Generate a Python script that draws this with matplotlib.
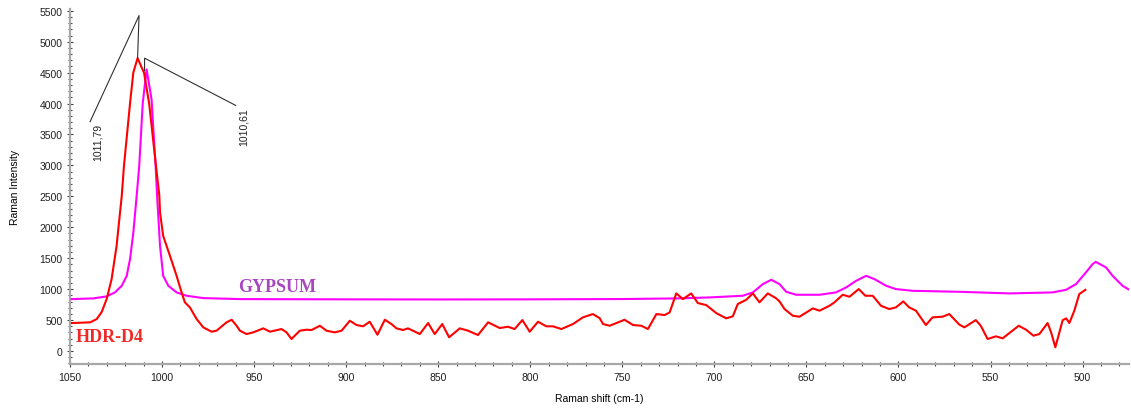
import matplotlib
matplotlib.use("Agg")
import matplotlib.pyplot as plt
from matplotlib.ticker import MultipleLocator

# HDR-D4 spectrum
hdr_shift = [1049, 1039, 1035.5, 1032.8, 1030.1, 1027.4, 1024.7, 1021.9, 1020.7, 1017.4,
             1015.6, 1013.3, 1009.8, 1007, 1003.3, 1001.5, 1001.1, 999.4, 995.7, 992.1,
             989.4, 987.6, 984.9, 981.2, 977.6, 973.1, 970.4, 965, 962.2, 959.5,
             957.7, 954.1, 950.5, 945, 941.4, 935.1, 932.4, 929.7, 925.2, 921.5,
             918.8, 914.3, 910.7, 906.2, 902.5, 898, 894.4, 890.8, 887.2, 883,
             879, 875.4, 872.7, 869.1, 866.4, 862.7, 860, 855.5, 851.9, 847.8,
             844.1, 838.3, 833.8, 828.4, 822.9, 816.6, 812.1, 808.5, 804.3, 800.3,
             795.8, 791.3, 787.7, 783.1, 776.8, 771.4, 766, 762.3, 760.5, 756.9,
             748.8, 744.2, 739.7, 736.1, 731.5, 727, 724.3, 720.7, 717.1, 712.6,
             709, 704.4, 699, 693.6, 690, 687.3, 682.7, 679.1, 675.5, 671,
             666.4, 664.6, 661.9, 657.4, 653.8, 646.5, 642.9, 637.5, 634.8, 630.3,
             626.6, 621.6, 618, 614, 609.5, 605, 601.4, 597.4, 594.2, 590.5,
             585.1, 581.5, 576.1, 572.4, 567, 564.2, 558, 555.3, 551.6, 547.1,
             543.4, 534.7, 530.7, 526.7, 523.5, 519, 517.1, 514.8, 510.8, 508.9,
             507.2, 504.5, 501.8, 498.5]
hdr_int = [452, 463, 516, 629, 839, 1162, 1700, 2507, 2991, 4003,
           4503, 4734, 4498, 3998, 2991, 2518, 2239, 1861, 1538, 1215,
           947, 786, 705, 516, 382, 312, 328, 463, 505, 408,
           328, 274, 301, 366, 312, 355, 301, 194, 328, 344,
           339, 408, 328, 301, 328, 489, 420, 399, 473, 263,
           505, 436, 366, 339, 366, 312, 274, 452, 274, 436,
           221, 366, 328, 258, 463, 371, 392, 355, 500, 312,
           473, 399, 399, 355, 436, 544, 597, 530, 436, 408,
           505, 420, 408, 355, 597, 581, 624, 931, 839, 931,
           775, 742, 613, 528, 560, 759, 828, 931, 786, 931,
           851, 800, 678, 570, 554, 689, 651, 731, 786, 909,
           877, 1001, 893, 893, 731, 678, 705, 802, 705, 651,
           420, 544, 554, 597, 428, 382, 500, 408, 194, 237,
           205, 408, 344, 247, 274, 452, 301, 60, 500, 527,
           452, 651, 920, 989]

# GYPSUM reference spectrum
gyp_shift = [1049.1, 1037.4, 1030.1, 1025.6, 1021.9, 1019.2, 1017.4, 1015.6, 1013.8, 1012.4,
             1010.5, 1008.4, 1005.7, 1004.4, 1003.5, 1002.6, 1001.1, 999.4, 996.6, 992.1,
             986.7, 977.6, 957.7, 900, 850, 800, 750, 720, 702.6, 684.6,
             679.1, 673.7, 669.1, 664.6, 661, 655.6, 642.9, 634, 628.4, 623,
             617.6, 613.1, 606.7, 601.4, 592.4, 567, 539.8, 516.3, 509, 503.6,
             498.2, 494.6, 492.9, 487.3, 483.7, 478.3, 474.6]
gyp_int = [839, 850, 883, 947, 1054, 1215, 1485, 1916, 2507, 2991,
           4003, 4551, 4067, 3422, 2991, 2453, 1700, 1215, 1054, 947,
           893, 855, 839, 835, 833, 835, 840, 850, 866, 893,
           947, 1081, 1151, 1081, 957, 909, 909, 947, 1028, 1135,
           1215, 1162, 1054, 1001, 973, 957, 931, 947, 989, 1081,
           1270, 1404, 1441, 1351, 1215, 1054, 989]

# peak annotation leader lines and labels
peak_labels = ["1011,79", "1010,61"]
leader1_x = [1013.3, 1012.5, 1039.1]
leader1_y = [4734, 5423, 3707]
leader2_x = [1009.5, 1009.5, 960.0]
leader2_y = [4530, 4734, 3970]
label_pos = [(1035.0, 3690), (955.9, 3945)]

fig = plt.figure(figsize=(11.31, 4.10), dpi=100)
ax = fig.add_axes([0.0619, 0.1098, 0.936, 0.866])

ax.plot(gyp_shift, gyp_int, color="#ff00ff", lw=1.5, zorder=3)
ax.plot(hdr_shift, hdr_int, color="#ff0000", lw=1.5, zorder=4)

ax.plot(leader1_x, leader1_y, color="#303030", lw=0.8, zorder=5)
ax.plot(leader2_x, leader2_y, color="#303030", lw=0.8, zorder=5)
for txt, (x, y) in zip(peak_labels, label_pos):
    ax.text(x, y, txt, rotation=90, ha="center", va="top", fontsize=7.5,
            family="Liberation Sans", color="#202020")

ax.text(958.8, 968, "GYPSUM", fontsize=13, fontweight="bold", family="Liberation Serif",
        color="#a846c0", ha="left", va="baseline")
ax.text(1046.7, 166, "HDR-D4", fontsize=13, fontweight="bold", family="Liberation Serif",
        color="#f02828", ha="left", va="baseline")

ax.set_xlim(1050, 475)
ax.set_ylim(-210, 5530)
ax.xaxis.set_major_locator(MultipleLocator(50))
ax.xaxis.set_minor_locator(MultipleLocator(10))
ax.yaxis.set_major_locator(MultipleLocator(500))
ax.yaxis.set_minor_locator(MultipleLocator(100))

for s in ["top", "right"]:
    ax.spines[s].set_visible(False)
for s in ["left", "bottom"]:
    ax.spines[s].set_color("#a8a8a8")
    ax.spines[s].set_linewidth(1.6)

ax.tick_params(which="major", direction="inout", length=5, width=0.8, color="#404040",
               labelsize=7.5, labelcolor="#202020", pad=3)
ax.tick_params(which="minor", direction="inout", length=3, width=0.8, color="#404040")
for lbl in ax.get_xticklabels() + ax.get_yticklabels():
    lbl.set_family("Liberation Sans")

ax.set_xlabel("Raman shift (cm-1)", fontsize=7.5, family="Liberation Sans", labelpad=8)
ax.set_ylabel("Raman Intensity", fontsize=7.5, family="Liberation Sans", labelpad=14)

fig.savefig("out.png", dpi=100)
